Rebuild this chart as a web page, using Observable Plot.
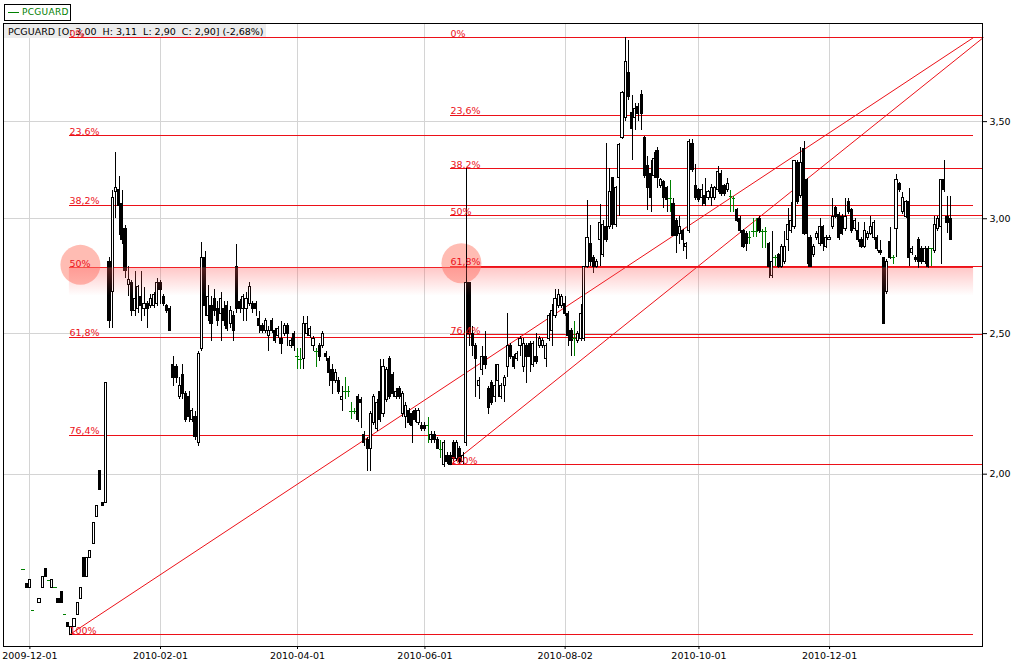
<!DOCTYPE html>
<html><head><meta charset="utf-8">
<script src="https://cdn.jsdelivr.net/npm/d3@7"></script>
<script src="https://cdn.jsdelivr.net/npm/@observablehq/plot@0.6"></script>
<style>
body{margin:0;background:#fff;font-family:"DejaVu Sans",sans-serif;}
#wrap{position:relative;width:1015px;height:666px;overflow:hidden;}
#legend{position:absolute;left:4px;top:4px;width:67px;height:17px;box-sizing:border-box;border:1px solid #000;background:#fff;
 font:9px "DejaVu Sans",sans-serif;color:#008000;line-height:15px;white-space:nowrap;letter-spacing:0.3px;}
#legend .ln{display:inline-block;width:11px;height:1px;background:#008000;vertical-align:middle;margin:0 3px 0 3px;}
</style></head>
<body><div id="wrap"><div id="chart"></div><div id="legend"><span class="ln"></span>PCGUARD</div></div>
<script>
const ticker = "PCGUARD";
// trading-day index = array position (null = no trade)
const open = [1.72,1.68,1.67,1.61,null,1.63,1.67,1.72,1.69,1.67,
 1.67,1.64,1.66,1.60,1.58,1.55,1.57,1.60,1.64,1.75,
 1.70,1.75,1.79,1.87,2.01,1.91,1.91,2.80,2.67,3.13,
 3.14,3.07,2.95,2.70,2.71,2.59,2.60,2.65,2.60,2.62,
 2.61,2.61,2.62,2.71,2.65,2.61,2.60,2.38,2.37,2.26,
 2.34,2.27,2.26,2.18,2.19,2.10,2.44,2.82,2.57,2.61,
 2.64,2.60,2.58,2.60,2.61,2.54,2.57,2.78,2.63,2.60,
 2.60,2.62,2.62,2.62,2.56,2.53,2.51,2.49,2.55,2.51,
 2.49,2.48,2.50,2.53,2.45,2.50,2.41,2.40,2.40,2.50,
 2.49,2.45,2.43,2.45,2.45,2.42,2.40,2.36,2.32,2.32,
 2.25,2.28,2.28,2.21,2.21,2.26,2.25,2.13,2.11,2.08,
 2.17,2.15,2.28,2.20,2.25,2.40,2.34,2.26,2.29,2.20,
 2.19,2.21,2.20,2.21,2.17,2.16,2.16,2.16,2.11,2.13,
 2.11,2.08,2.03,2.06,2.06,2.10,2.05,2.08,2.04,2.10,
 2.71,2.50,2.45,2.30,2.36,2.41,2.29,2.31,2.26,2.32,
 2.26,2.30,2.37,2.45,2.41,2.40,2.45,2.37,2.45,2.46,
 2.38,2.41,2.45,2.45,2.40,2.48,2.51,2.57,2.61,2.61,
 2.62,2.58,2.51,2.48,2.47,2.48,2.48,2.78,2.88,2.82,
 2.78,2.90,2.83,2.96,2.96,3.20,2.97,3.20,3.41,3.52,
 3.78,3.55,3.52,3.58,3.65,3.41,3.26,3.22,3.21,3.34,
 3.16,3.18,3.15,3.10,3.07,2.99,2.93,2.94,2.87,2.94,
 3.38,3.16,3.14,3.10,3.11,3.10,3.10,3.10,3.14,3.22,
 3.16,3.14,3.11,3.10,3.04,3.00,2.94,2.93,2.91,2.94,
 2.94,3.00,2.94,2.94,2.88,2.74,2.82,2.83,2.78,2.80,
 2.90,2.94,2.96,3.28,3.11,3.35,3.19,2.91,2.83,2.91,
 2.88,2.96,2.87,2.90,2.96,3.05,3.02,3.01,2.95,3.08,
 3.04,2.95,2.94,2.90,2.87,2.91,2.93,2.91,2.91,2.85,
 2.82,2.67,2.89,2.82,2.95,3.17,3.03,3.01,3.08,2.84,
 2.82,2.90,2.86,2.80,2.86,2.86,2.85,2.95,2.96,3.19,
 3.01,3.00];
const high = [1.72,1.68,1.69,1.61,null,1.64,1.70,1.72,1.69,1.69,
 1.67,1.64,1.66,1.60,1.58,1.57,1.59,1.63,1.67,1.75,
 1.75,1.77,1.85,1.90,2.01,1.91,2.31,2.82,3.14,3.33,
 3.21,3.14,2.97,2.78,2.72,2.76,2.70,2.76,2.69,2.63,
 2.66,2.67,2.73,2.72,2.66,2.62,2.61,2.41,2.38,2.33,
 2.38,2.28,2.28,2.22,2.21,2.43,2.89,2.85,2.70,2.65,
 2.68,2.63,2.67,2.63,2.63,2.61,2.59,2.88,2.64,2.66,
 2.67,2.71,2.63,2.63,2.59,2.54,2.56,2.53,2.56,2.52,
 2.53,2.55,2.54,2.54,2.48,2.51,2.44,2.44,2.57,2.57,
 2.53,2.49,2.44,2.46,2.51,2.43,2.41,2.38,2.36,2.33,
 2.30,2.33,2.30,2.24,2.22,2.27,2.26,2.14,2.12,2.21,
 2.27,2.25,2.40,2.40,2.37,2.41,2.35,2.29,2.30,2.28,
 2.24,2.22,2.21,2.22,2.22,2.17,2.17,2.19,2.14,2.14,
 2.12,2.11,2.11,2.07,2.07,2.11,2.11,2.09,2.07,3.25,
 2.71,2.53,2.46,2.33,2.45,2.51,2.30,2.32,2.38,2.38,
 2.31,2.34,2.58,2.46,2.42,2.43,2.49,2.48,2.46,2.47,
 2.47,2.50,2.49,2.48,2.46,2.58,2.62,2.68,2.68,2.66,
 2.65,2.59,2.52,2.55,2.51,2.62,2.78,3.09,2.97,2.83,
 2.81,3.07,2.99,3.38,3.25,3.20,3.16,3.38,3.67,4.00,
 3.98,3.65,3.60,3.60,3.68,3.42,3.31,3.29,3.33,3.36,
 3.20,3.19,3.16,3.19,3.10,3.00,3.01,2.95,2.89,3.40,
 3.40,3.27,3.15,3.17,3.20,3.14,3.17,3.16,3.26,3.24,
 3.17,3.20,3.14,3.11,3.05,3.01,2.95,2.94,2.94,3.00,
 3.00,3.01,2.95,2.96,2.89,2.94,2.83,2.84,2.88,2.94,
 3.05,3.08,3.29,3.29,3.36,3.39,3.20,2.92,2.88,2.94,
 3.00,2.97,2.92,2.92,3.10,3.06,3.03,3.02,3.10,3.10,
 3.05,3.00,2.98,2.91,2.98,2.94,3.01,2.99,2.92,2.90,
 2.82,2.81,2.96,2.83,3.22,3.18,3.13,3.09,3.15,2.87,
 2.83,2.91,2.87,2.87,2.87,2.86,3.01,3.01,3.19,3.29,
 3.11,3.11];
const low = [1.72,1.67,1.67,1.61,null,1.63,1.67,1.70,1.69,1.67,
 1.67,1.63,1.63,1.60,1.57,1.55,1.57,1.60,1.64,1.70,
 1.70,1.75,1.79,1.87,1.95,1.90,1.91,2.52,2.52,3.00,
 2.92,2.88,2.73,2.65,2.57,2.57,2.58,2.55,2.57,2.52,
 2.60,2.60,2.61,2.62,2.61,2.58,2.51,2.30,2.31,2.25,
 2.25,2.17,2.17,2.17,2.11,2.09,2.43,2.57,2.55,2.47,
 2.57,2.53,2.47,2.53,2.51,2.52,2.47,2.58,2.58,2.55,
 2.55,2.61,2.58,2.57,2.50,2.50,2.50,2.43,2.50,2.46,
 2.48,2.42,2.49,2.45,2.44,2.43,2.36,2.36,2.36,2.49,
 2.48,2.43,2.37,2.39,2.44,2.39,2.30,2.27,2.31,2.27,
 2.21,2.25,2.26,2.18,2.20,2.17,2.15,2.09,2.01,2.01,
 2.16,2.14,2.17,2.19,2.24,2.25,2.26,2.25,2.25,2.19,
 2.15,2.16,2.10,2.17,2.16,2.14,2.14,2.10,2.10,2.10,
 2.08,2.05,2.02,2.03,2.03,2.04,2.04,2.03,2.03,2.09,
 2.45,2.41,2.26,2.25,2.34,2.36,2.20,2.23,2.24,2.26,
 2.25,2.24,2.33,2.40,2.36,2.39,2.41,2.35,2.31,2.35,
 2.37,2.38,2.44,2.44,2.37,2.47,2.45,2.56,2.60,2.60,
 2.57,2.45,2.41,2.41,2.46,2.47,2.47,2.77,2.78,2.75,
 2.77,2.78,2.82,2.89,2.95,2.95,2.96,3.01,3.40,3.50,
 3.62,3.29,3.45,3.50,3.45,3.20,3.04,3.03,3.20,3.15,
 3.15,3.05,3.03,3.03,2.92,2.84,2.88,2.85,2.81,2.93,
 3.23,3.09,3.08,3.06,3.06,3.09,3.06,3.09,3.13,3.11,
 3.11,3.13,3.03,3.03,2.98,2.93,2.86,2.85,2.88,2.91,
 2.91,2.93,2.86,2.86,2.73,2.73,2.78,2.77,2.77,2.79,
 2.85,2.93,2.95,3.07,3.10,2.92,2.79,2.78,2.82,2.90,
 2.87,2.85,2.86,2.90,2.95,3.00,2.90,2.92,2.94,3.02,
 2.93,2.94,2.89,2.86,2.86,2.90,2.92,2.90,2.85,2.83,
 2.54,2.66,2.81,2.79,2.82,3.13,3.02,3.00,2.78,2.83,
 2.80,2.77,2.79,2.79,2.77,2.78,2.84,2.94,2.79,3.13,
 2.93,2.90];
const close = [1.72,1.67,1.69,1.61,null,1.64,1.70,1.70,1.69,1.69,
 1.67,1.63,1.63,1.60,1.57,1.57,1.59,1.63,1.67,1.70,
 1.75,1.77,1.85,1.90,1.95,1.90,2.31,2.55,3.10,3.15,
 3.06,2.90,2.76,2.72,2.59,2.64,2.69,2.61,2.62,2.60,
 2.64,2.66,2.71,2.68,2.62,2.59,2.51,2.33,2.33,2.30,
 2.27,2.18,2.19,2.21,2.12,2.42,2.82,2.61,2.65,2.54,
 2.59,2.55,2.64,2.55,2.52,2.59,2.51,2.60,2.60,2.65,
 2.64,2.69,2.60,2.60,2.53,2.51,2.55,2.51,2.51,2.47,
 2.52,2.46,2.53,2.50,2.47,2.45,2.41,2.40,2.54,2.54,
 2.52,2.48,2.43,2.41,2.50,2.41,2.35,2.32,2.35,2.28,
 2.26,2.28,2.28,2.21,2.21,2.18,2.24,2.10,2.08,2.20,
 2.26,2.24,2.18,2.37,2.36,2.26,2.27,2.28,2.26,2.27,
 2.23,2.17,2.16,2.18,2.21,2.15,2.15,2.16,2.13,2.11,
 2.08,2.08,2.10,2.04,2.03,2.05,2.10,2.04,2.06,2.71,
 2.50,2.45,2.40,2.32,2.41,2.38,2.22,2.24,2.30,2.38,
 2.30,2.33,2.45,2.41,2.37,2.42,2.48,2.46,2.41,2.41,
 2.46,2.39,2.48,2.47,2.45,2.57,2.59,2.64,2.66,2.65,
 2.58,2.49,2.47,2.48,2.50,2.58,2.78,2.91,2.80,2.78,
 2.80,2.98,2.97,2.90,3.13,2.97,3.15,3.37,3.66,3.85,
 3.64,3.46,3.57,3.54,3.54,3.21,3.15,3.10,3.30,3.20,
 3.19,3.10,3.09,3.10,2.92,2.92,2.96,2.90,2.88,3.39,
 3.24,3.10,3.09,3.14,3.07,3.13,3.15,3.15,3.23,3.12,
 3.12,3.17,3.11,3.10,2.99,2.94,2.87,2.88,2.91,2.94,
 2.94,2.94,2.94,2.94,2.78,2.80,2.82,2.78,2.87,2.87,
 2.97,2.99,3.29,3.08,3.28,2.93,2.93,2.78,2.87,2.93,
 2.96,2.88,2.91,2.91,3.01,3.01,2.91,2.93,3.01,3.03,
 2.94,2.99,2.90,2.87,2.94,2.93,2.96,2.98,2.86,2.84,
 2.54,2.80,2.82,2.82,3.19,3.14,3.10,3.08,2.82,2.86,
 2.81,2.80,2.80,2.86,2.78,2.86,2.97,3.00,3.19,3.14,
 2.98,2.90];

const tickDay = [2, 43, 86, 126, 170, 212, 253];
const tickLabel = ["2009-12-01","2010-02-01","2010-04-01","2010-06-01","2010-08-02","2010-10-01","2010-12-01"];
const yTicks = [2.0, 2.5, 3.0, 3.5];

// Fibonacci retracements
const fibPct = [0, 23.6, 38.2, 50, 61.8, 76.4, 100];
const fibLabel = ["0%","23,6%","38,2%","50%","61,8%","76,4%","100%"];
const fibHigh = [4.00, 4.00];
const fibLow = [1.55, 2.03];
const fibStartDay = [14.4, 134];
const fibEndDay = [298.2, 301.3];
const fibHighlight = [3, 4]; // 50% of set 1, 61,8% of set 2

const RED = "#ec1018", GREEN = "#008000", GRID = "#d4d4d4";

const candles = [];
open.forEach((o, i) => { if (o == null) return; candles.push({day: i, o, h: high[i], l: low[i], c: close[i]}); });
const bodies = candles.filter(d => d.o !== d.c);
const dojis = candles.filter(d => d.o === d.c);

const fibRows = [];
fibHigh.forEach((hi, k) => fibPct.forEach((p, j) => fibRows.push({
  set: k, level: j, price: hi - p / 100 * (hi - fibLow[k]),
  x1: fibStartDay[k], x2: fibEndDay[k], label: fibLabel[j]})));
const highlightRows = fibRows.filter(r => r.level === fibHighlight[r.set]);
const diagRows = fibHigh.map((hi, k) => ({x1: fibStartDay[k], y1: fibLow[k], x2: fibEndDay[k], y2: hi}));
const bandRows = [highlightRows[0]].map(r => ({x1: r.x1, x2: r.x2, y1: r.price, y2: r.price * 0.956}));

const defsMark = () => {
  const defs = d3.create("svg:defs");
  const lg = defs.append("linearGradient").attr("id", "fibBand")
    .attr("x1", 0).attr("y1", 0).attr("x2", 0).attr("y2", 1);
  lg.append("stop").attr("offset", 0).attr("stop-color", "#ff5a5a").attr("stop-opacity", 0.34);
  lg.append("stop").attr("offset", 1).attr("stop-color", "#ff5a5a").attr("stop-opacity", 0);
  return defs.node();
};

const headerMark = () => {
  const t = candles[candles.length - 1], prev = candles[candles.length - 2];
  const f = v => v.toFixed(2).replace(".", ",");
  const chg = ((t.c - prev.c) / prev.c * 100).toFixed(2).replace(".", ",");
  const txt = `${ticker} [O: ${f(t.o)}  H: ${f(t.h)}  L: ${f(t.l)}  C: ${f(t.c)}] (${chg}%)`;
  const g = d3.create("svg:g");
  g.append("rect").attr("x", 4).attr("y", 24).attr("width", 262).attr("height", 14).attr("fill", "#ececec");
  g.append("text").attr("x", 8).attr("y", 35).attr("font-size", 9.5).attr("fill", "#000")
    .attr("text-anchor", "start").style("white-space", "pre").text(txt);
  return g.node();
};

const chart = Plot.plot({
  width: 1015, height: 666,
  marginLeft: 3, marginRight: 33, marginTop: 23, marginBottom: 20,
  style: {fontFamily: "DejaVu Sans, sans-serif", fontSize: "9.5px", background: "#fff", color: "#000"},
  x: {type: "linear", domain: [-6.28, 301.0], label: null},
  y: {type: "log", domain: [1.5214, 4.0899], label: null},
  marks: [
    defsMark,
    Plot.ruleX(tickDay, {stroke: GRID, shapeRendering: "crispEdges"}),
    Plot.ruleY(yTicks, {stroke: GRID, shapeRendering: "crispEdges"}),
    headerMark,
    Plot.ruleY(fibRows, {y: "price", x1: "x1", x2: "x2", stroke: RED, strokeWidth: 1, shapeRendering: "crispEdges"}),
    Plot.link(diagRows, {x1: "x1", y1: "y1", x2: "x2", y2: "y2", stroke: RED, strokeWidth: 1}),
    Plot.dot(highlightRows, {x: "x1", y: "price", r: 20, dx: 11, dy: -3, fill: "#ff7a68", fillOpacity: 0.5, stroke: "none"}),
    Plot.ruleX(candles, {x: "day", y1: "l", y2: "h", stroke: d => d.o === d.c ? GREEN : "#000", strokeWidth: 1, shapeRendering: "crispEdges"}),
    Plot.rect(bodies, {x1: d => d.day - 0.34, x2: d => d.day + 0.34, y1: "o", y2: "c",
      fill: d => d.c > d.o ? "#fff" : "#000", stroke: "#000", strokeWidth: 1, shapeRendering: "crispEdges"}),
    Plot.ruleY(dojis, {y: "c", x1: d => d.day - 0.55, x2: d => d.day + 0.55, stroke: GREEN, strokeWidth: 1, shapeRendering: "crispEdges"}),
    Plot.rect(bandRows, {x1: "x1", x2: "x2", y1: "y1", y2: "y2", fill: "url(#fibBand)"}),
    Plot.text(fibRows, {x: "x1", y: "price", text: "label", textAnchor: "start", lineAnchor: "bottom", dy: -1, fill: RED, fontSize: 9.5}),
    Plot.frame({stroke: "#000"}),
    Plot.axisX({ticks: tickDay, tickFormat: d => tickLabel[tickDay.indexOf(d)], tickSize: 3, tickPadding: 3, label: null}),
    Plot.axisY({anchor: "right", ticks: yTicks, tickFormat: d => d.toFixed(2).replace(".", ","), tickSize: 4, tickPadding: 3, label: null})
  ]
});
document.getElementById("chart").appendChild(chart);
</script>
</body></html>
